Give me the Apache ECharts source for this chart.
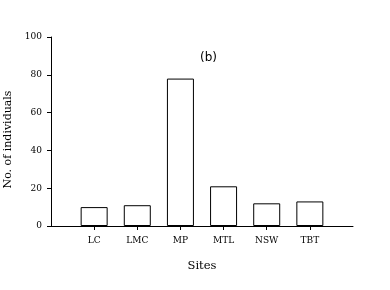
<!DOCTYPE html>
<html><head><meta charset="utf-8">
<script src="https://cdn.jsdelivr.net/npm/echarts@6/dist/echarts.min.js"></script>
<style>html,body{margin:0;padding:0;background:#fff}#c{width:390px;height:290px}</style>
</head><body><div id="c"></div>
<script>
const sites = ['LC','LMC','MP','MTL','NSW','TBT'];
const individuals = [10, 11, 78, 21, 12, 13];
const yTicks = [0, 20, 40, 60, 80, 100];
const sitePositions = [1, 2, 3, 4, 5, 6];

const chart = echarts.init(document.getElementById('c'), null, {renderer:'canvas'});
const serif = '"DejaVu Serif", "Liberation Serif", serif';
chart.setOption({
  animation:false,
  backgroundColor:'#fff',
  title:{text:'(b)', left:195, top:47, textStyle:{fontFamily:'"DejaVu Sans", sans-serif', fontSize:12, fontWeight:'normal', color:'#000'}},
  grid:{left:51, right:37, top:37, bottom:64, outerBoundsMode:'none', containLabel:false},
  xAxis:{
    type:'value', min:0, max:sites.length+1, interval:1,
    name:'Sites', nameLocation:'middle', nameGap:34,
    nameTextStyle:{fontFamily:serif, fontSize:11.5, color:'#000'},
    axisLine:{lineStyle:{color:'#000', width:1}},
    axisTick:{show:true, length:4, customValues:sitePositions, lineStyle:{color:'#000'}},
    axisLabel:{customValues:sitePositions, formatter:v=>sites[v-1]||'', fontFamily:serif, fontSize:9, color:'#000', margin:10},
    splitLine:{show:false}
  },
  yAxis:{
    type:'value', min:0, max:100, interval:20,
    name:'No. of individuals', nameLocation:'middle', nameGap:27, nameRotate:90,
    nameTextStyle:{fontFamily:serif, fontSize:11, color:'#000', padding:[0,16,0,0]},
    axisLine:{show:true, lineStyle:{color:'#000', width:1}},
    axisTick:{show:true, length:4, lineStyle:{color:'#000'}},
    axisLabel:{fontFamily:serif, fontSize:9, color:'#000', margin:9},
    splitLine:{show:false}
  },
  series:[{
    type:'bar', barWidth:27,
    data: sitePositions.map((p,i)=>[p, individuals[i]]),
    itemStyle:{color:'#fff', borderColor:'#000', borderWidth:1}
  }]
});
</script></body></html>
